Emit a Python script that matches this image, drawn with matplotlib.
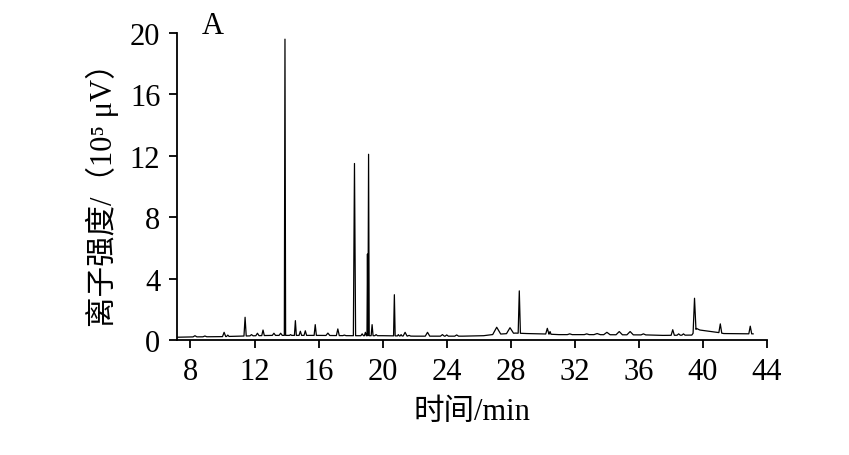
import numpy as np
import matplotlib
matplotlib.use("Agg")
import matplotlib.pyplot as plt

plt.rcParams["font.family"] = ["Liberation Serif", "Noto Sans CJK SC", "DejaVu Serif"]

# baseline of the chromatogram (time in min, intensity in 10^5 uV)
base_t = [7.16, 8.0, 10.0, 11.0, 13.0, 14.0, 16.0, 18.0, 20.0, 22.0, 25.0, 26.3, 26.8,
          28.3, 29.0, 30.0, 31.0, 33.0, 36.5, 37.5, 39.3, 39.6, 39.8, 40.5, 40.9, 41.3, 43.13]
base_y = [0.18, 0.2, 0.22, 0.25, 0.3, 0.3, 0.3, 0.28, 0.28, 0.25, 0.25, 0.28, 0.35,
          0.45, 0.42, 0.4, 0.35, 0.35, 0.33, 0.3, 0.32, 0.75, 0.65, 0.55, 0.5, 0.42, 0.4]

# peaks: retention time, apex height, half width at base
peak_t = [8.28, 8.9, 10.1, 10.33, 11.41, 11.81, 12.18, 12.53, 13.21, 13.63, 13.9,
          14.25, 14.55, 14.86, 15.17, 15.79, 16.58, 17.2, 17.61, 18.24, 18.72, 18.92,
          19.05, 19.12, 19.34, 19.59, 20.73, 20.98, 21.15, 21.4, 21.65, 22.8, 23.73,
          24.0, 24.62, 27.12, 27.95, 28.53, 30.28, 30.45, 31.68, 32.74, 33.39, 34.0,
          34.77, 35.45, 36.28, 38.11, 38.48, 38.78, 39.47, 41.08, 42.95]
peak_h = [0.28, 0.26, 0.5, 0.32, 1.48, 0.35, 0.44, 0.65, 0.44, 0.44, 19.6,
          0.35, 1.26, 0.57, 0.6, 1.0, 0.45, 0.72, 0.32, 11.5, 0.4, 0.5,
          5.6, 12.1, 1.0, 0.35, 2.95, 0.35, 0.35, 0.5, 0.3, 0.5, 0.35,
          0.33, 0.33, 0.83, 0.8, 3.2, 0.76, 0.55, 0.4, 0.4, 0.42, 0.5,
          0.55, 0.55, 0.4, 0.67, 0.4, 0.4, 2.72, 1.05, 0.9]
peak_w = [0.12, 0.12, 0.1, 0.08, 0.07, 0.1, 0.1, 0.08, 0.1, 0.1, 0.04,
          0.07, 0.06, 0.08, 0.08, 0.07, 0.12, 0.09, 0.1, 0.07, 0.08, 0.06,
          0.03, 0.04, 0.06, 0.08, 0.05, 0.06, 0.06, 0.12, 0.1, 0.14, 0.12,
          0.1, 0.12, 0.25, 0.22, 0.07, 0.1, 0.06, 0.15, 0.15, 0.2, 0.2,
          0.2, 0.2, 0.15, 0.1, 0.1, 0.1, 0.09, 0.09, 0.09]

xticks = [8, 12, 16, 20, 24, 28, 32, 36, 40, 44]
yticks = [0, 4, 8, 12, 16, 20]

# build the trace
pts = list(zip(base_t, base_y))
for t, h, w in zip(peak_t, peak_h, peak_w):
    pts.append((t - w, float(np.interp(t - w, base_t, base_y))))
    pts.append((t, h))
    pts.append((t + w, float(np.interp(t + w, base_t, base_y))))
pts.sort()
tt = [p[0] for p in pts]
yy = [p[1] for p in pts]

fig = plt.figure(figsize=(8.49, 4.56), dpi=100)
ax = fig.add_axes([0.2085, 0.2522, 0.6950, 0.6732])
ax.plot(tt, yy, color="black", lw=0.9)

ax.set_xlim(7.16, 44)
ax.set_ylim(0, 20)
ax.set_xticks(xticks)
ax.set_yticks(yticks)
ax.spines["top"].set_visible(False)
ax.spines["right"].set_visible(False)
ax.spines["left"].set_linewidth(1.3)
ax.spines["bottom"].set_linewidth(1.3)
ax.tick_params(axis="both", direction="out", length=6, width=1.3, labelsize=22, pad=6)

ax.set_xlabel("时间/min", fontsize=22, labelpad=8)
ax.set_ylabel("离子强度/（10⁵ μV）", fontsize=22, labelpad=8)
ax.text(0.061, 1.025, "A", transform=ax.transAxes, fontsize=22, ha="center", va="center")

fig.savefig("out.png", dpi=100)
